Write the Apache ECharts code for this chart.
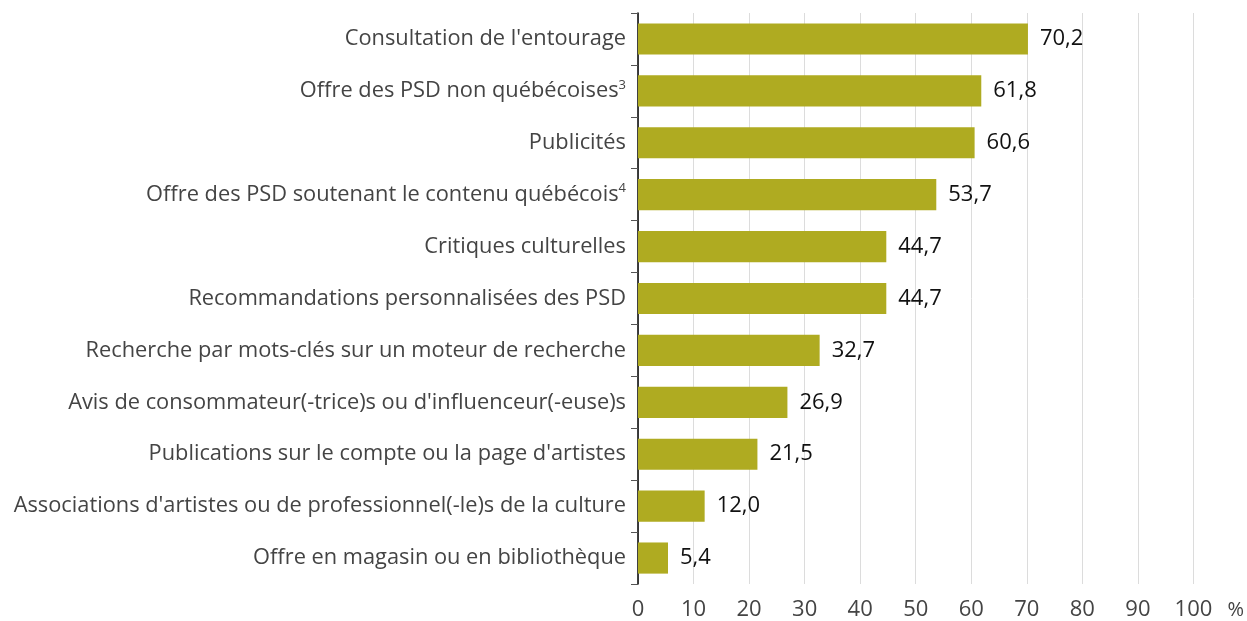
<!DOCTYPE html>
<html>
<head>
    <meta charset="utf-8">
    <title>Sources de découverte</title>
    <script src="https://cdn.jsdelivr.net/npm/echarts@6/dist/echarts.min.js"></script>
</head>
<body style="margin:0">
    <div id="main" style="width: 1247px;height:621px;"></div>
    <script type="text/javascript">
        // de bas en haut (ordre de l'axe des catégories)
        var categories = [
            "Offre en magasin ou en bibliothèque",
            "Associations d'artistes ou de professionnel(-le)s de la culture",
            "Publications sur le compte ou la page d'artistes",
            "Avis de consommateur(-trice)s ou d'influenceur(-euse)s",
            "Recherche par mots-clés sur un moteur de recherche",
            "Recommandations personnalisées des PSD",
            "Critiques culturelles",
            "Offre des PSD soutenant le contenu québécois{sup|4}",
            "Publicités",
            "Offre des PSD non québécoises{sup|3}",
            "Consultation de l'entourage"
        ];
        var values = [5.4, 12.0, 21.5, 26.9, 32.7, 44.7, 44.7, 53.7, 60.6, 61.8, 70.2];
        var ticks = [0, 10, 20, 30, 40, 50, 60, 70, 80, 90, 100];

        var myChart = echarts.init(document.getElementById('main'));
        var font = '"Open Sans", sans-serif';

        myChart.setOption({
            animation: false,
            grid: { left: 638, right: 53, top: 13, bottom: 36 },
            xAxis: {
                type: 'value',
                min: 0,
                max: 100,
                interval: 10,
                name: '%',
                nameLocation: 'end',
                nameGap: 34,
                nameTextStyle: { fontFamily: font, fontSize: 20, color: '#444', verticalAlign: 'top', padding: [16, 0, 0, 0] },
                axisLine: { show: false },
                axisTick: { show: false },
                axisLabel: {
                    fontFamily: font, fontSize: 22, color: '#444', margin: 15,
                    formatter: function (v) { return ticks.indexOf(v) >= 0 ? String(v) : ''; }
                },
                splitLine: { show: true, lineStyle: { color: '#dcdcdc', width: 1 } }
            },
            yAxis: {
                type: 'category',
                data: categories,
                axisLine: { show: true, lineStyle: { color: '#000', width: 1.5 } },
                axisTick: { show: true, inside: false, length: 7, lineStyle: { color: '#555' } },
                axisLabel: {
                    fontFamily: font, fontSize: 21.8, color: '#444', margin: 12,
                    rich: {
                        sup: { fontFamily: font, fontSize: 13, color: '#444', padding: [0, 0, 12, 0] }
                    }
                }
            },
            series: [{
                type: 'bar',
                data: values,
                barCategoryGap: '40%',
                itemStyle: { color: '#afab21' },
                label: {
                    show: true,
                    position: 'right',
                    distance: 12,
                    fontFamily: font,
                    fontSize: 22,
                    color: '#111',
                    formatter: function (p) { return p.value.toFixed(1).replace('.', ','); }
                }
            }]
        });
    </script>
</body>
</html>
